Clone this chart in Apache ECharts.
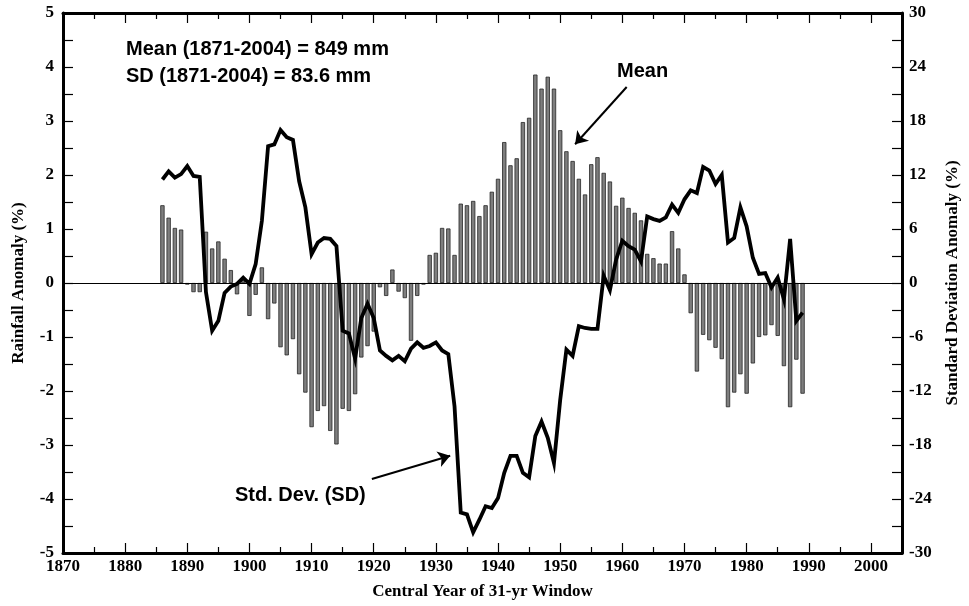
<!DOCTYPE html>
<html>
<head>
<meta charset="utf-8">
<script src="https://cdn.jsdelivr.net/npm/echarts@6/dist/echarts.min.js"></script>
<style>
html,body{margin:0;padding:0;background:#fff;}
#chart{width:969px;height:606px;}
</style>
</head>
<body>
<div id="chart"></div>
<script>
// ---- data ----
const START_YEAR = 1886;   // first central year plotted
const rainfallAnomaly = [
  1.44, 1.21, 1.02, 0.99, -0.03, -0.17, -0.17, 0.95, 0.64, 0.77,   // 1886-1895
  0.45, 0.24, -0.21, 0.05, -0.61, -0.22, 0.29, -0.67, -0.38, -1.19, // 1896-1905
  -1.34, -1.04, -1.69, -2.03, -2.67, -2.37, -2.28, -2.74, -2.99, -2.33, // 1906-1915
  -2.37, -2.06, -1.38, -1.17, -0.9, -0.08, -0.24, 0.25, -0.16, -0.28, // 1916-1925
  -1.07, -0.24, -0.03, 0.52, 0.56, 1.02, 1.01, 0.52, 1.47, 1.44,    // 1926-1935
  1.52, 1.24, 1.44, 1.69, 1.93, 2.61, 2.18, 2.31, 2.98, 3.06,       // 1936-1945
  3.86, 3.60, 3.82, 3.60, 2.83, 2.44, 2.26, 1.93, 1.64, 2.20,       // 1946-1955
  2.33, 2.04, 1.88, 1.43, 1.58, 1.39, 1.30, 1.16, 0.54, 0.46,       // 1956-1965
  0.36, 0.36, 0.96, 0.64, 0.16, -0.56, -1.64, -0.96, -1.06, -1.20,  // 1966-1975
  -1.41, -2.30, -2.03, -1.69, -2.05, -1.49, -1.00, -0.97, -0.78, -0.98, // 1976-1985
  -1.54, -2.30, -1.42, -2.05                                         // 1986-1989
];
const sdAnomaly = [
  11.5, 12.4, 11.7, 12.1, 13.0, 11.9, 11.8, -1.0, -5.3, -4.2,       // 1886-1895
  -1.1, -0.4, -0.1, 0.6, -0.1, 2.1, 6.9, 15.2, 15.4, 17.0,          // 1896-1905
  16.2, 15.9, 11.3, 8.4, 3.2, 4.5, 5.0, 4.9, 4.1, -5.3,             // 1906-1915
  -5.6, -8.4, -3.9, -2.3, -3.9, -7.5, -8.1, -8.6, -8.1, -8.7,       // 1916-1925
  -7.3, -6.6, -7.2, -7.0, -6.6, -7.5, -7.9, -13.7, -25.5, -25.7,    // 1926-1935
  -27.7, -26.3, -24.8, -25.0, -23.9, -21.1, -19.2, -19.2, -21.1, -21.6, // 1936-1945
  -17.0, -15.4, -17.2, -20.0, -13.0, -7.4, -8.1, -4.8, -5.0, -5.1,  // 1946-1955
  -5.1, 0.8, -0.8, 2.6, 4.7, 4.1, 3.7, 2.4, 7.4, 7.1,               // 1956-1965
  6.9, 7.3, 8.7, 7.8, 9.3, 10.3, 10.0, 12.9, 12.5, 11.0,            // 1966-1975
  12.0, 4.5, 5.0, 8.4, 6.3, 2.8, 1.0, 1.1, -0.5, 0.6,               // 1976-1985
  -1.8, 4.9, -4.2, -3.3                                              // 1986-1989
];
const xTicks = [1870, 1880, 1890, 1900, 1910, 1920, 1930, 1940, 1950, 1960, 1970, 1980, 1990, 2000];
const leftTicks = [-5, -4, -3, -2, -1, 0, 1, 2, 3, 4, 5];
const rightTicks = [-30, -24, -18, -12, -6, 0, 6, 12, 18, 24, 30];
const noteLines = ['Mean (1871-2004) = 849 mm', 'SD (1871-2004) = 83.6 mm'];
const meanArrow = [[1960.7, 3.63], [1952.4, 2.57]];
const sdArrow = [[1919.7, -3.63], [1932.3, -3.20]];

// ---- build ----
const barData = rainfallAnomaly.map((v, i) => [START_YEAR + i, v]);
const lineData = sdAnomaly.map((v, i) => [START_YEAR + i, v]);

const serif = "'Liberation Serif', 'Times New Roman', serif";
const sans = "'Liberation Sans', Arial, sans-serif";
const tickLabel = {color: '#000', fontFamily: serif, fontWeight: 'bold', fontSize: 17};
const frameLine = {show: true, onZero: false, lineStyle: {color: '#000', width: 3}};
const tickStyle = {color: '#000', width: 1.2};

const chart = echarts.init(document.getElementById('chart'), null, {renderer: 'canvas'});
chart.setOption({
  animation: false,
  backgroundColor: '#fff',
  grid: {left: 63, right: 62, top: 13, bottom: 53, containLabel: false},
  xAxis: [{
    type: 'value', min: xTicks[0], max: 2005, interval: 10, position: 'bottom',
    axisLine: frameLine,
    axisTick: {show: true, inside: true, length: 10, lineStyle: tickStyle},
    minorTick: {show: true, splitNumber: 2, length: 6, lineStyle: tickStyle},
    splitLine: {show: false},
    axisLabel: Object.assign({}, tickLabel, {margin: 5,
      formatter: v => (xTicks.indexOf(v) >= 0 ? String(v) : '')}),
    name: 'Central Year of 31-yr Window', nameLocation: 'middle', nameGap: 30,
    nameTextStyle: {color: '#000', fontFamily: serif, fontWeight: 'bold', fontSize: 17}
  }, {
    type: 'value', min: xTicks[0], max: 2005, interval: 10, position: 'top',
    axisLine: frameLine,
    axisTick: {show: true, inside: true, length: 10, lineStyle: tickStyle},
    minorTick: {show: true, splitNumber: 2, length: 6, lineStyle: tickStyle},
    splitLine: {show: false}, axisLabel: {show: false}
  }],
  yAxis: [{
    type: 'value', min: leftTicks[0], max: leftTicks[leftTicks.length - 1], interval: 1, position: 'left',
    axisLine: frameLine,
    axisTick: {show: true, inside: true, length: 10, lineStyle: tickStyle},
    minorTick: {show: true, splitNumber: 2, length: 10, lineStyle: tickStyle},
    splitLine: {show: false},
    axisLabel: Object.assign({}, tickLabel, {margin: 9}),
    name: 'Rainfall Anomaly (%)', nameLocation: 'middle', nameRotate: 90, nameGap: 36,
    nameTextStyle: {color: '#000', fontFamily: serif, fontWeight: 'bold', fontSize: 17}
  }, {
    type: 'value', min: rightTicks[0], max: rightTicks[rightTicks.length - 1], interval: 6, position: 'right',
    axisLine: frameLine,
    axisTick: {show: true, inside: true, length: 10, lineStyle: tickStyle},
    minorTick: {show: true, splitNumber: 2, length: 10, lineStyle: tickStyle},
    splitLine: {show: false},
    axisLabel: Object.assign({}, tickLabel, {margin: 7}),
    name: 'Standard Deviation Anomaly (%)', nameLocation: 'middle', nameRotate: 90, nameGap: 42,
    nameTextStyle: {color: '#000', fontFamily: serif, fontWeight: 'bold', fontSize: 17}
  }],
  series: [{
    type: 'bar', name: 'Mean', xAxisIndex: 0, yAxisIndex: 0,
    data: barData, barWidth: 4.3,
    itemStyle: {color: '#7e7e7e', borderColor: '#262626', borderWidth: 0.8},
    z: 2,
    markLine: {
      silent: true, symbol: ['none', 'arrow'], symbolSize: 12,
      label: {show: false},
      lineStyle: {color: '#000', width: 2, type: 'solid'},
      data: [
        [{coord: meanArrow[0]}, {coord: meanArrow[1]}],
        [{coord: sdArrow[0]}, {coord: sdArrow[1]}]
      ]
    }
  }, {
    type: 'line', name: 'SD', xAxisIndex: 0, yAxisIndex: 1,
    data: lineData, symbol: 'none', z: 3,
    lineStyle: {color: '#000', width: 3.8, join: 'miter'},
    markLine: {
      silent: true, symbol: ['none', 'none'],
      label: {show: false},
      lineStyle: {color: '#000', width: 1, type: 'solid'},
      data: [{yAxis: 0}]
    }
  }],
  graphic: [
    {type: 'text', left: 126, top: 39, z: 10,
     style: {text: noteLines[0], fill: '#000', font: "bold 20px " + sans}},
    {type: 'text', left: 126, top: 66, z: 10,
     style: {text: noteLines[1], fill: '#000', font: "bold 20px " + sans}},
    {type: 'text', left: 617, top: 61, z: 10,
     style: {text: 'Mean', fill: '#000', font: "bold 20px " + sans}},
    {type: 'text', left: 235, top: 485, z: 10,
     style: {text: 'Std. Dev. (SD)', fill: '#000', font: "bold 20px " + sans}}
  ]
});
</script>
</body>
</html>
